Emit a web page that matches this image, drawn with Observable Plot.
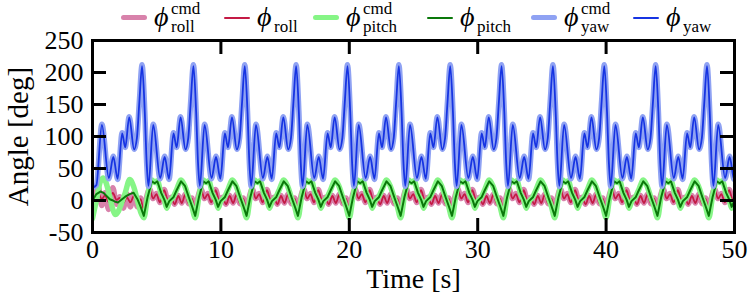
<!DOCTYPE html>
<html><head><meta charset="utf-8">
<script src="https://cdn.jsdelivr.net/npm/d3@7"></script>
<script src="https://cdn.jsdelivr.net/npm/@observablehq/plot@0.6"></script>
<style>
body{margin:0;background:#fff;}
#wrap{width:748px;height:295px;position:relative;font-family:"Liberation Serif","Times New Roman",Times,"DejaVu Serif",serif;color:#000;overflow:hidden;}
#legend{height:28px;position:relative;}
.item{position:absolute;top:0;height:34px;}
.sw{position:absolute;width:26px;border-radius:3px;}
.phi{position:absolute;top:2px;font-style:italic;font-size:28px;line-height:30px;font-family:"Liberation Serif","DejaVu Serif",serif;}
.sup{position:absolute;top:0px;font-size:17px;line-height:18px;}
.sub{position:absolute;top:18px;font-size:17px;line-height:18px;}
svg{overflow:visible;display:block;}
</style></head>
<body><div id="wrap"><div id="legend"></div><div id="chart"></div></div>
<script>
// ---------- data ----------
const legendLabels = [
  {name:"roll", cmd:true}, {name:"roll", cmd:false},
  {name:"pitch", cmd:true}, {name:"pitch", cmd:false},
  {name:"yaw", cmd:true}, {name:"yaw", cmd:false}
];
const xTicks = [0,10,20,30,40,50];
const yTicks = [-50,0,50,100,150,200,250];

const yawT = [0,0.3,0.73,1.27,1.62,1.96,2.31,2.55,2.86,3.24,3.46,3.65,3.86,
4.07,4.22,4.36,4.73,5.27,5.62,5.96,6.31,6.55,6.86,7.24,7.46,7.65,7.86,
8.07,8.22,8.36,8.73,9.27,9.62,9.96,10.31,10.55,10.86,11.24,11.46,11.65,11.86,
12.07,12.22,12.36,12.73,13.27,13.62,13.96,14.31,14.55,14.86,15.24,15.46,15.65,15.86,
16.07,16.22,16.36,16.73,17.27,17.62,17.96,18.31,18.55,18.86,19.24,19.46,19.65,19.86,
20.07,20.22,20.36,20.73,21.27,21.62,21.96,22.31,22.55,22.86,23.24,23.46,23.65,23.86,
24.07,24.22,24.36,24.73,25.27,25.62,25.96,26.31,26.55,26.86,27.24,27.46,27.65,27.86,
28.07,28.22,28.36,28.73,29.27,29.62,29.96,30.31,30.55,30.86,31.24,31.46,31.65,31.86,
32.07,32.22,32.36,32.73,33.27,33.62,33.96,34.31,34.55,34.86,35.24,35.46,35.65,35.86,
36.07,36.22,36.36,36.73,37.27,37.62,37.96,38.31,38.55,38.86,39.24,39.46,39.65,39.86,
40.07,40.22,40.36,40.73,41.27,41.62,41.96,42.31,42.55,42.86,43.24,43.46,43.65,43.86,
44.07,44.22,44.36,44.73,45.27,45.62,45.96,46.31,46.55,46.86,47.24,47.46,47.65,47.86,
48.07,48.22,48.36,48.73,49.27,49.62,49.96,50];
const yawCmd = [20,24,119,34,69,33,106,83,131,80,98,155,212,
140,58,22,119,34,69,33,106,83,131,80,98,155,212,
140,58,22,119,34,69,33,106,83,131,80,98,155,212,
140,58,22,119,34,69,33,106,83,131,80,98,155,212,
140,58,22,119,34,69,33,106,83,131,80,98,155,212,
140,58,22,119,34,69,33,106,83,131,80,98,155,212,
140,58,22,119,34,69,33,106,83,131,80,98,155,212,
140,58,22,119,34,69,33,106,83,131,80,98,155,212,
140,58,22,119,34,69,33,106,83,131,80,98,155,212,
140,58,22,119,34,69,33,106,83,131,80,98,155,212,
140,58,22,119,34,69,33,106,83,131,80,98,155,212,
140,58,22,119,34,69,33,106,83,131,80,98,155,212,
140,58,22,119,34,69,33,36];
const yawAct = [20,24,118,35,68,34,105,83,130,80,98,154,210,
139,58,23,118,35,68,34,105,83,130,80,98,154,210,
139,58,23,118,35,68,34,105,83,130,80,98,154,210,
139,58,23,118,35,68,34,105,83,130,80,98,154,210,
139,58,23,118,35,68,34,105,83,130,80,98,154,210,
139,58,23,118,35,68,34,105,83,130,80,98,154,210,
139,58,23,118,35,68,34,105,83,130,80,98,154,210,
139,58,23,118,35,68,34,105,83,130,80,98,154,210,
139,58,23,118,35,68,34,105,83,130,80,98,154,210,
139,58,23,118,35,68,34,105,83,130,80,98,154,210,
139,58,23,118,35,68,34,105,83,130,80,98,154,210,
139,58,23,118,35,68,34,105,83,130,80,98,154,210,
139,58,23,118,35,68,34,36];

const rollT = [0,0.22,0.45,0.72,0.98,1.25,1.58,1.88,2.12,2.4,2.68,2.95,3.22,3.5,3.74,
4,4.22,4.45,4.72,4.98,5.25,5.58,5.88,6.12,6.4,6.68,6.95,7.22,7.5,7.74,
8,8.22,8.45,8.72,8.98,9.25,9.58,9.88,10.12,10.4,10.68,10.95,11.22,11.5,11.74,
12,12.22,12.45,12.72,12.98,13.25,13.58,13.88,14.12,14.4,14.68,14.95,15.22,15.5,15.74,
16,16.22,16.45,16.72,16.98,17.25,17.58,17.88,18.12,18.4,18.68,18.95,19.22,19.5,19.74,
20,20.22,20.45,20.72,20.98,21.25,21.58,21.88,22.12,22.4,22.68,22.95,23.22,23.5,23.74,
24,24.22,24.45,24.72,24.98,25.25,25.58,25.88,26.12,26.4,26.68,26.95,27.22,27.5,27.74,
28,28.22,28.45,28.72,28.98,29.25,29.58,29.88,30.12,30.4,30.68,30.95,31.22,31.5,31.74,
32,32.22,32.45,32.72,32.98,33.25,33.58,33.88,34.12,34.4,34.68,34.95,35.22,35.5,35.74,
36,36.22,36.45,36.72,36.98,37.25,37.58,37.88,38.12,38.4,38.68,38.95,39.22,39.5,39.74,
40,40.22,40.45,40.72,40.98,41.25,41.58,41.88,42.12,42.4,42.68,42.95,43.22,43.5,43.74,
44,44.22,44.45,44.72,44.98,45.25,45.58,45.88,46.12,46.4,46.68,46.95,47.22,47.5,47.74,
48,48.22,48.45,48.72,48.98,49.25,49.58,49.88,50];
const rollCmd = [0,8,22,-8,12,-14,20,-6,6,-12,10,-10,12,-10,4,
-18,6,18,3,11,-3,17,0,5,-6,8,-4,10,-5,4,
-18,6,18,3,11,-3,17,0,5,-6,8,-4,10,-5,4,
-18,6,18,3,11,-3,17,0,5,-6,8,-4,10,-5,4,
-18,6,18,3,11,-3,17,0,5,-6,8,-4,10,-5,4,
-18,6,18,3,11,-3,17,0,5,-6,8,-4,10,-5,4,
-18,6,18,3,11,-3,17,0,5,-6,8,-4,10,-5,4,
-18,6,18,3,11,-3,17,0,5,-6,8,-4,10,-5,4,
-18,6,18,3,11,-3,17,0,5,-6,8,-4,10,-5,4,
-18,6,18,3,11,-3,17,0,5,-6,8,-4,10,-5,4,
-18,6,18,3,11,-3,17,0,5,-6,8,-4,10,-5,4,
-18,6,18,3,11,-3,17,0,5,-6,8,-4,10,-5,4,
-18,6,18,3,11,-3,17,0,3];
const rollAct = [0,4,12,2,8,-2,12,1,4,-4,5,-3,7,-4,2,
-16,6,17,3,10,-3,16,0,5,-6,7,-4,9,-5,3,
-16,6,17,3,10,-3,16,0,5,-6,7,-4,9,-5,3,
-16,6,17,3,10,-3,16,0,5,-6,7,-4,9,-5,3,
-16,6,17,3,10,-3,16,0,5,-6,7,-4,9,-5,3,
-16,6,17,3,10,-3,16,0,5,-6,7,-4,9,-5,3,
-16,6,17,3,10,-3,16,0,5,-6,7,-4,9,-5,3,
-16,6,17,3,10,-3,16,0,5,-6,7,-4,9,-5,3,
-16,6,17,3,10,-3,16,0,5,-6,7,-4,9,-5,3,
-16,6,17,3,10,-3,16,0,5,-6,7,-4,9,-5,3,
-16,6,17,3,10,-3,16,0,5,-6,7,-4,9,-5,3,
-16,6,17,3,10,-3,16,0,5,-6,7,-4,9,-5,3,
-16,6,17,3,10,-3,16,0,3];

const pitchT = [0,0.3,0.62,0.85,1.05,1.35,1.6,1.78,1.98,2.3,2.55,2.9,3.2,3.5,3.75,
4,4.3,4.62,4.85,5.05,5.35,5.6,5.78,5.98,6.3,6.55,6.9,7.2,7.5,7.75,
8,8.3,8.62,8.85,9.05,9.35,9.6,9.78,9.98,10.3,10.55,10.9,11.2,11.5,11.75,
12,12.3,12.62,12.85,13.05,13.35,13.6,13.78,13.98,14.3,14.55,14.9,15.2,15.5,15.75,
16,16.3,16.62,16.85,17.05,17.35,17.6,17.78,17.98,18.3,18.55,18.9,19.2,19.5,19.75,
20,20.3,20.62,20.85,21.05,21.35,21.6,21.78,21.98,22.3,22.55,22.9,23.2,23.5,23.75,
24,24.3,24.62,24.85,25.05,25.35,25.6,25.78,25.98,26.3,26.55,26.9,27.2,27.5,27.75,
28,28.3,28.62,28.85,29.05,29.35,29.6,29.78,29.98,30.3,30.55,30.9,31.2,31.5,31.75,
32,32.3,32.62,32.85,33.05,33.35,33.6,33.78,33.98,34.3,34.55,34.9,35.2,35.5,35.75,
36,36.3,36.62,36.85,37.05,37.35,37.6,37.78,37.98,38.3,38.55,38.9,39.2,39.5,39.75,
40,40.3,40.62,40.85,41.05,41.35,41.6,41.78,41.98,42.3,42.55,42.9,43.2,43.5,43.75,
44,44.3,44.62,44.85,45.05,45.35,45.6,45.78,45.98,46.3,46.55,46.9,47.2,47.5,47.75,
48,48.3,48.62,48.85,49.05,49.35,49.6,49.78,49.98,50];
const pitchCmd = [-28,0,30,35,28,5,-15,-22,-18,-2,12,33,22,0,-18,
-27,8,32,28,31,10,0,-12,-2,6,17,32,22,4,-10,
-27,8,32,28,31,10,0,-12,-2,6,17,32,22,4,-10,
-27,8,32,28,31,10,0,-12,-2,6,17,32,22,4,-10,
-27,8,32,28,31,10,0,-12,-2,6,17,32,22,4,-10,
-27,8,32,28,31,10,0,-12,-2,6,17,32,22,4,-10,
-27,8,32,28,31,10,0,-12,-2,6,17,32,22,4,-10,
-27,8,32,28,31,10,0,-12,-2,6,17,32,22,4,-10,
-27,8,32,28,31,10,0,-12,-2,6,17,32,22,4,-10,
-27,8,32,28,31,10,0,-12,-2,6,17,32,22,4,-10,
-27,8,32,28,31,10,0,-12,-2,6,17,32,22,4,-10,
-27,8,32,28,31,10,0,-12,-2,6,17,32,22,4,-10,
-27,8,32,28,31,10,0,-12,-2,-6];
const pitchAct = [0,10,14,12,8,2,0,-2,-3,2,6,10,12,2,-10,
-24,6,30,27,30,12,1,-10,-1,5,16,30,23,5,-9,
-24,6,30,27,30,12,1,-10,-1,5,16,30,23,5,-9,
-24,6,30,27,30,12,1,-10,-1,5,16,30,23,5,-9,
-24,6,30,27,30,12,1,-10,-1,5,16,30,23,5,-9,
-24,6,30,27,30,12,1,-10,-1,5,16,30,23,5,-9,
-24,6,30,27,30,12,1,-10,-1,5,16,30,23,5,-9,
-24,6,30,27,30,12,1,-10,-1,5,16,30,23,5,-9,
-24,6,30,27,30,12,1,-10,-1,5,16,30,23,5,-9,
-24,6,30,27,30,12,1,-10,-1,5,16,30,23,5,-9,
-24,6,30,27,30,12,1,-10,-1,5,16,30,23,5,-9,
-24,6,30,27,30,12,1,-10,-1,5,16,30,23,5,-9,
-24,6,30,27,30,12,1,-10,-1,-6];

// ---------- styling ----------
const colors = {rollCmd:"#d882ab", roll:"#c41a45", pitchCmd:"#86f586", pitch:"#0a780a", yawCmd:"#8fa2f3", yaw:"#1634e2"};
const legendX = [121,224,313,427,531,633];
const font = "'Liberation Serif','Times New Roman',Times,'DejaVu Serif',serif";

// ---------- legend (HTML) ----------
const leg = document.getElementById("legend");
const keys = ["rollCmd","roll","pitchCmd","pitch","yawCmd","yaw"];
legendLabels.forEach((L,i)=>{
  const it = document.createElement("div");
  it.className="item"; it.style.left = legendX[i]+"px";
  const sw = document.createElement("div"); sw.className="sw";
  sw.style.background = colors[keys[i]];
  sw.style.height = L.cmd ? "5px" : "2px";
  sw.style.top = L.cmd ? "15px" : "16.5px";
  sw.style.left = "0px";
  it.appendChild(sw);
  const ph = document.createElement("span"); ph.className="phi"; ph.textContent="\u03D5"; ph.style.left="33px";
  it.appendChild(ph);
  if (L.cmd) { const s=document.createElement("span"); s.className="sup"; s.textContent="cmd"; s.style.left="50px"; it.appendChild(s); }
  const b=document.createElement("span"); b.className="sub"; b.textContent=L.name; b.style.left="50px"; it.appendChild(b);
  leg.appendChild(it);
});

// ---------- chart ----------
const W=748, H=267, mL=92, mR=14, mT=12, mB=63;
const pw=W-mL-mR, ph=H-mT-mB, tk=14;
const rollRows = rollT.map((t,i)=>({t, cmd:rollCmd[i], act:rollAct[i]}));
const pitchRows = pitchT.map((t,i)=>({t, cmd:pitchCmd[i], act:pitchAct[i]}));
const yawRows = yawT.map((t,i)=>({t, cmd:yawCmd[i], act:yawAct[i]}));

const chart = Plot.plot({
  width:W, height:H, marginLeft:mL, marginRight:mR, marginTop:mT, marginBottom:mB,
  style:{fontFamily:font, background:"white", color:"black", overflow:"visible"},
  x:{domain:[0,50]}, y:{domain:[-50,250]},
  marks:[
    Plot.line(rollRows,{x:"t",y:"cmd",stroke:colors.rollCmd,strokeWidth:5.5,curve:"monotone-x",clip:true}),
    Plot.line(rollRows,{x:"t",y:"act",stroke:colors.roll,strokeWidth:1.8,curve:"monotone-x",clip:true}),
    Plot.line(pitchRows,{x:"t",y:"cmd",stroke:colors.pitchCmd,strokeWidth:5.5,curve:"monotone-x",clip:true}),
    Plot.line(pitchRows,{x:"t",y:"act",stroke:colors.pitch,strokeWidth:2,curve:"linear",clip:true}),
    Plot.line(yawRows,{x:"t",y:"cmd",stroke:colors.yawCmd,strokeWidth:5.5,curve:"monotone-x",clip:true}),
    Plot.line(yawRows,{x:"t",y:"act",stroke:colors.yaw,strokeWidth:1.8,curve:"monotone-x",clip:true}),
    Plot.tickY(yTicks,{y:d=>d,insetRight:pw-tk,strokeWidth:3}),
    Plot.tickY(yTicks,{y:d=>d,insetLeft:pw-tk,strokeWidth:3}),
    Plot.tickX(xTicks,{x:d=>d,insetTop:ph-tk,strokeWidth:3}),
    Plot.tickX(xTicks,{x:d=>d,insetBottom:ph-tk,strokeWidth:3}),
    Plot.frame({strokeWidth:3}),
    Plot.axisX(xTicks,{tickSize:0,tickPadding:7,fontSize:26,fontFamily:font,tickFormat:d=>String(d),label:null}),
    Plot.axisY(yTicks,{tickSize:0,tickPadding:9,fontSize:26,fontFamily:font,tickFormat:d=>String(d),label:null}),
    Plot.text(["Time [s]"],{frameAnchor:"bottom",dy:55,fontSize:28,fontFamily:font,fill:"black"}),
    Plot.text(["Angle [deg]"],{frameAnchor:"left",textAnchor:"middle",dx:-74,rotate:-90,fontSize:29,fontFamily:font,fill:"black"})
  ]
});
document.getElementById("chart").appendChild(chart);
</script></body></html>
